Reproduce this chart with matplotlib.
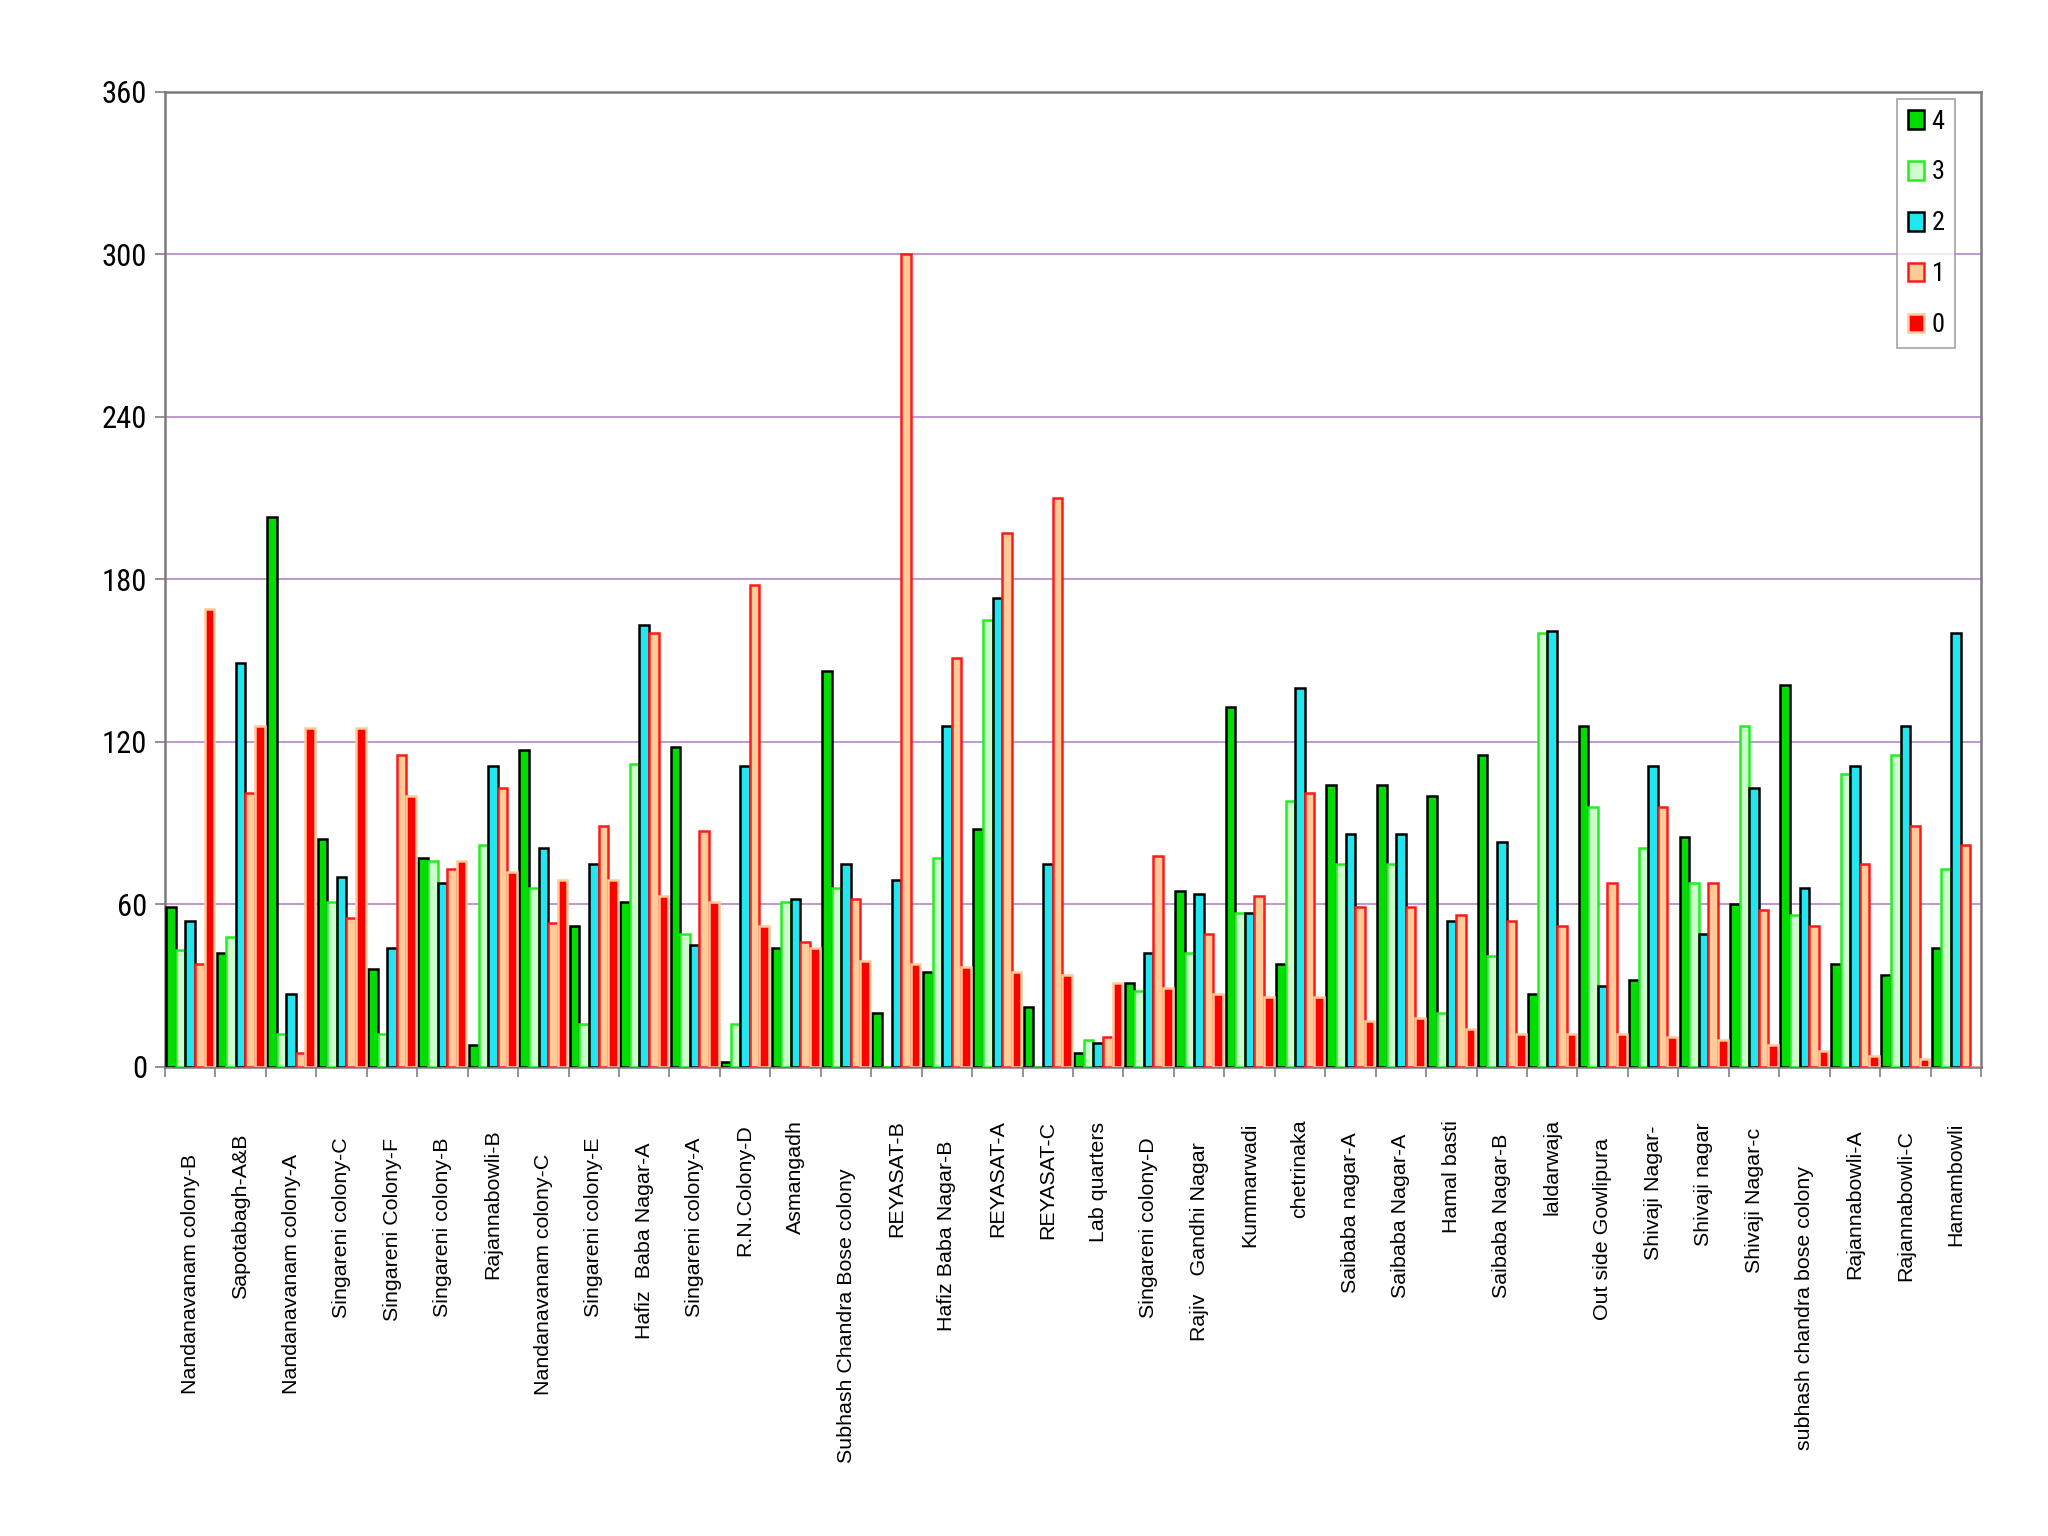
import matplotlib
matplotlib.use("Agg")
import matplotlib.pyplot as plt
from matplotlib import font_manager
from matplotlib.transforms import blended_transform_factory
import numpy as np

categories = [
    "Nandanavanam colony-B", "Sapotabagh-A&B", "Nandanavanam colony-A",
    "Singareni colony-C", "Singareni Colony-F", "Singareni colony-B",
    "Rajannabowli-B", "Nandanavanam colony-C", "Singareni colony-E",
    "Hafiz  Baba Nagar-A", "Singareni colony-A", "R.N.Colony-D", "Asmangadh",
    "Subhash Chandra Bose colony", "REYASAT-B", "Hafiz Baba Nagar-B",
    "REYASAT-A", "REYASAT-C", "Lab quarters", "Singareni colony-D",
    "Rajiv   Gandhi Nagar", "Kummarwadi", "chetrinaka", "Saibaba nagar-A",
    "Saibaba Nagar-A", "Hamal basti", "Saibaba Nagar-B", "laldarwaja",
    "Out side Gowlipura", "Shivaji Nagar-", "Shivaji nagar", "Shivaji Nagar-c",
    "subhash chandra bose colony", "Rajannabowli-A", "Rajannabowli-C",
    "Hamambowli",
]

series_names = ["4", "3", "2", "1", "0"]

s4 = [59, 42, 203, 84, 36, 77, 8, 117, 52, 61, 118, 2, 44, 146, 20, 35, 88, 22,
      5, 31, 65, 133, 38, 104, 104, 100, 115, 27, 126, 32, 85, 60, 141, 38, 34, 44]
s3 = [43, 48, 12, 61, 12, 76, 82, 66, 16, 112, 49, 16, 61, 66, 0, 77, 165, 0,
      10, 28, 42, 57, 98, 75, 75, 20, 41, 160, 96, 81, 68, 126, 56, 108, 115, 73]
s2 = [54, 149, 27, 70, 44, 68, 111, 81, 75, 163, 45, 111, 62, 75, 69, 126, 173, 75,
      9, 42, 64, 57, 140, 86, 86, 54, 83, 161, 30, 111, 49, 103, 66, 111, 126, 160]
s1 = [38, 101, 5, 55, 115, 73, 103, 53, 89, 160, 87, 178, 46, 62, 300, 151, 197, 210,
      11, 78, 49, 63, 101, 59, 59, 56, 54, 52, 68, 96, 68, 58, 52, 75, 89, 82]
s0 = [169, 126, 125, 125, 100, 76, 72, 69, 69, 63, 61, 52, 44, 39, 38, 37, 35, 34,
      31, 29, 27, 26, 26, 17, 18, 14, 12, 12, 12, 11, 10, 8, 6, 4, 3, 0]

y_ticks = [0, 60, 120, 180, 240, 300, 360]

series_values = [s4, s3, s2, s1, s0]
face_colors = ["#00dd00", "#ccffcc", "#22e6f0", "#ffcc99", "#ff0000"]
edge_colors = ["#000000", "#22ee22", "#000000", "#ff1a1a", "#ffc89a"]

avail = {f.name for f in font_manager.fontManager.ttflist}
regular = "Liberation Sans" if "Liberation Sans" in avail else "DejaVu Sans"
narrow = None
for cand in ["Liberation Sans Narrow", "Arial Narrow", "Roboto Condensed",
             "Open Sans Condensed", "Noto Sans Condensed"]:
    if cand in avail:
        narrow = cand
        break
if narrow is None:
    narrow = regular
    num_size, leg_size = 21, 18
else:
    num_size, leg_size = 22, 19

W, H = 2048, 1536
fig = plt.figure(figsize=(W / 100, H / 100), dpi=100)
fig.patch.set_facecolor("white")
ax = fig.add_axes([165 / W, 1 - 1067 / H, (1981 - 165) / W, (1067 - 91.5) / H])
ax.set_facecolor("white")

x = np.arange(len(categories))
w = 0.19
handles = []
for j, vals in enumerate(series_values):
    b = ax.bar(x + (j - 2) * w, vals, width=w, facecolor=face_colors[j],
               edgecolor=edge_colors[j], linewidth=1.8, label=series_names[j],
               zorder=3)
    handles.append(b)

ax.set_xlim(-0.5, len(categories) - 0.5)
ax.set_ylim(0, 360)
ax.set_yticks(y_ticks)
ax.set_yticklabels([str(v) for v in y_ticks], fontfamily=narrow, fontsize=num_size)
ax.yaxis.grid(True, color="#b07cc6", linewidth=1.1, zorder=0)
ax.set_axisbelow(True)
ax.tick_params(axis="y", length=7, width=1.2, color="#808080", pad=6)

ax.set_xticks(np.arange(len(categories) + 1) - 0.5)
ax.set_xticklabels([])
ax.tick_params(axis="x", length=7, width=1.2, color="#808080")

for side in ["left", "bottom", "top", "right"]:
    ax.spines[side].set_color("#7a7a7a")
    ax.spines[side].set_linewidth(1.8)

trans = blended_transform_factory(ax.transData, fig.transFigure)
texts = []
for i, name in enumerate(categories):
    t = ax.text(i, 1 - 1119 / H, name, rotation=90, ha="center", va="top",
                transform=trans, fontfamily=regular, fontsize=15.4, color="black",
                clip_on=False)
    texts.append(t)

leg = fig.legend(handles=handles, labels=series_names, loc="upper right",
                 bbox_to_anchor=(1955 / W, 1 - 99 / H),
                 bbox_transform=fig.transFigure, frameon=True, fancybox=False,
                 prop={"family": narrow, "size": leg_size},
                 handlelength=0.6, handleheight=0.72, handletextpad=0.3,
                 labelspacing=1.02, borderpad=0.4, borderaxespad=0)
leg.get_frame().set_edgecolor("#8c8c8c")
leg.get_frame().set_linewidth(1.2)

fig.canvas.draw()
renderer = fig.canvas.get_renderer()
for t in texts:
    bb = t.get_window_extent(renderer)
    L = bb.height
    top_px = 1119 + 0.27 * max(0.0, L - 111)
    t.set_y(1 - top_px / H)

fig.savefig("out.png", dpi=100, facecolor="white")
